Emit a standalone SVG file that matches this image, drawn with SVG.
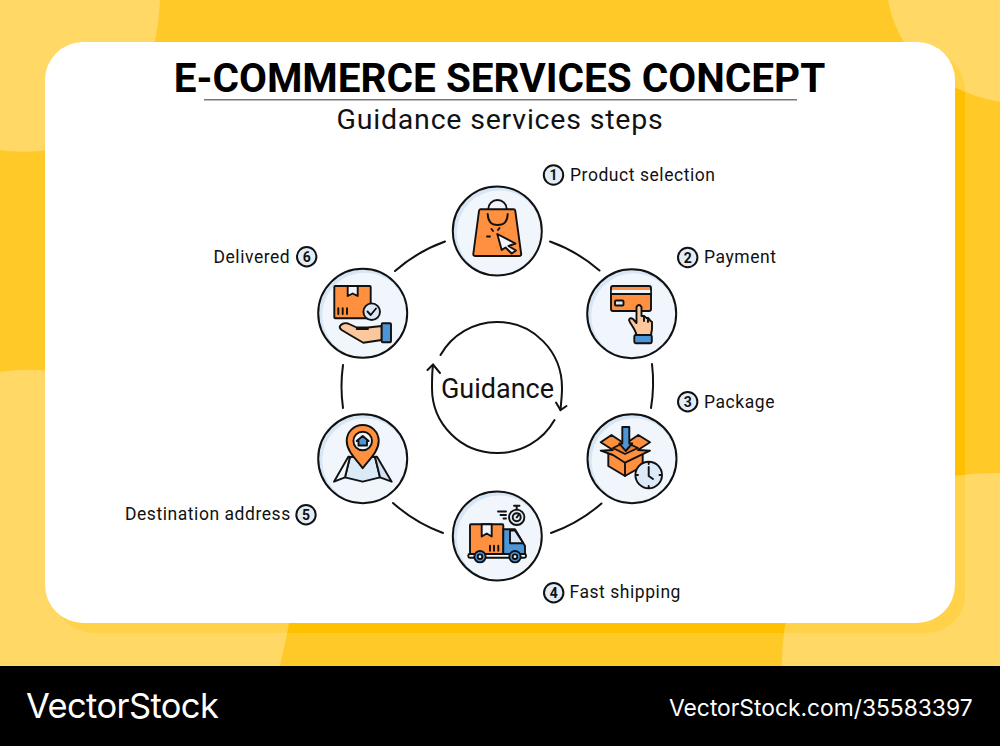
<svg xmlns="http://www.w3.org/2000/svg" width="1000" height="746" viewBox="0 0 1000 746">
<style>
.t{font-family:Roboto,"Liberation Sans",sans-serif;fill:#111}
.lab{font-size:17.5px;letter-spacing:.55px}
.num{font-size:14px;font-weight:700;text-anchor:middle}
.blob{fill:#fff;fill-opacity:.29}
.ring{fill:#D6E6F5}
.inner{fill:#F1F6FD}
.edge{fill:none;stroke:#111;stroke-width:2}
.conn{fill:none;stroke:#111;stroke-width:2;stroke-linecap:round}
.s{stroke:#111;stroke-width:1.9;stroke-linejoin:round;stroke-linecap:round}
.or{fill:#FF9040}
.bl{fill:#4C96D7}
.sk{fill:#FCC79C}
.wh{fill:#F1F6FD}
.lb{fill:#DCE9F6}
.n{fill:none}
.badge{fill:#E2EDF8;stroke:#111;stroke-width:2}
.wm{font-family:Inter,"Liberation Sans",sans-serif;fill:#fff}
</style>
<rect width="1000" height="746" fill="#FFC928"/>
<rect x="55" y="52" width="910" height="581" rx="38" fill="#FFC000"/>
<path class="blob" d="M0 0H160C158 40 148 90 110 125C85 146 40 156 0 150Z"/>
<path class="blob" d="M888 0C895 40 925 88 1000 102V0Z"/>
<path class="blob" d="M0 372C30 368 60 368 90 384C170 430 290 500 292 590C292 620 284 645 280 666H0Z"/>
<path class="blob" d="M782 666C782 640 785 610 800 570C830 510 900 473 1000 473V666Z"/>
<rect x="45" y="42" width="910" height="581" rx="38" fill="#fff"/>
<rect y="666" width="1000" height="80" fill="#000"/>
<g id="title">
<text class="t" x="499.500" y="92" font-size="40.500" font-weight="700" text-anchor="middle" style="fill:#000">E-COMMERCE SERVICES CONCEPT</text>
<rect x="204" y="99" width="593" height="1.500" fill="#777"/>
<text class="t" x="500" y="129" font-size="28.500" text-anchor="middle" letter-spacing=".8">Guidance services steps</text>
</g>
<g id="connectors">
<path class="conn" d="M550 241.500A155 155 0 0 1 599.500 270.500"/>
<path class="conn" d="M652 364A155 155 0 0 1 651 408"/>
<path class="conn" d="M601.500 503.500A155 155 0 0 1 551 533"/>
<path class="conn" d="M443 533A155 155 0 0 1 393 503"/>
<path class="conn" d="M343 408A155 155 0 0 1 343 365"/>
<path class="conn" d="M395 271A155 155 0 0 1 445 241.500"/>
<path class="conn" d="M440.500 355A65 65 0 0 1 497 322C533 322 562 351 562 388C562 396 561 403 560.500 410"/>
<path class="conn" d="M556 402.500L560.500 410L566.500 406"/>
<path class="conn" d="M554.500 420A65 65 0 0 1 497 453C461 453 432 424 432 388C432 380 432 372 433 365"/>
<path class="conn" d="M427.500 370L433 364.500L440 373"/>
</g>
<g id="center-label"><text class="t" x="497.500" y="398" font-size="27" text-anchor="middle">Guidance</text></g>
<g id="node-1">
<circle class="ring" cx="497.300" cy="231" r="44.500"/><circle class="inner" cx="499.300" cy="233" r="42.500"/><circle class="edge" cx="497.300" cy="231" r="44.500"/>
<path class="n s" d="M488.300 209A9.200 9 0 0 1 506.700 209"/>
<path class="or s" d="M480.500 209.300H513.500Q515 209.300 515.300 211L521.200 254Q521.300 256 519 256H475.500Q473.200 256 473.300 254L479 211Q479.200 209.300 480.500 209.300Z"/>
<path class="n s" d="M487.700 214Q488 225 497.700 225Q507.500 225 507.700 214"/>
<path class="wh s" d="M497.300 234L515.500 243.500L508.500 246L516 250.500L511.700 253.500L505.500 247.500L501.700 250Z"/>
<path class="n s" d="M493 231L491.500 229M498 230L499.500 228M490 236.500H487" stroke-width="1.300"/>
<text class="t lab" x="570" y="180.500">Product selection</text>
<circle class="badge" cx="553.500" cy="175" r="9.700"/><text class="t num" x="553.500" y="180">1</text>
</g>
<g id="node-2">
<circle class="ring" cx="631.700" cy="313.700" r="44.500"/><circle class="inner" cx="633.700" cy="315.700" r="42.500"/><circle class="edge" cx="631.700" cy="313.700" r="44.500"/>
<rect class="or s" x="611" y="286" width="40" height="25" rx="2"/>
<rect x="611.800" y="290" width="38.400" height="4" fill="#F1F6FD"/>
<path class="n s" d="M611 294H651"/>
<rect class="lb s" x="615" y="300.500" width="8.500" height="5" rx="1"/>
<path class="sk s" d="M636.500 335C635 328 630 324 629 320Q630 317 633 319L636.500 323V307Q639 303 641.500 307V316L644 316Q646 317 646.500 318L648 318Q650 319 650 320.500L652 322V329L651 335Z"/>
<path class="n s" d="M644 316V321M648 318V322" stroke-width="1.300"/>
<rect class="bl s" x="634.300" y="335" width="17.500" height="8.300" rx="1.500"/>
<text class="t lab" x="704" y="263">Payment</text>
<circle class="badge" cx="687.700" cy="257.500" r="9.700"/><text class="t num" x="687.700" y="262.500">2</text>
</g>
<g id="node-3">
<circle class="ring" cx="632" cy="458.700" r="44.500"/><circle class="inner" cx="634" cy="460.700" r="42.500"/><circle class="edge" cx="632" cy="458.700" r="44.500"/>
<path class="or s" d="M608.300 454V466L625 476L642.700 466V454Z"/>
<path class="n s" d="M625 462.700V476"/>
<path class="or s" d="M625 444L611.500 435L600.700 442.300L613 450L600.700 450.700L613 455L625 462.700L650 450.700L638 450L650 442.300L638.300 435Z"/>
<path class="s" d="M613 448L625 442L638 448L625 454Z" style="fill:#E97C2D"/>
<path class="bl s" d="M622.300 427H629.300V443.500H632.300L625.700 451L619.300 443.500H622.300Z"/>
<circle class="lb s" cx="648.700" cy="475" r="13.300"/>
<path class="n s" d="M648.700 467V476L653 479M648.700 462V464M648.700 486V488M636 475H638M659.500 475H661.500"/>
<text class="t lab" x="704" y="407.500">Package</text>
<circle class="badge" cx="687.700" cy="401.700" r="9.700"/><text class="t num" x="687.700" y="406.700">3</text>
</g>
<g id="node-4">
<circle class="ring" cx="497.300" cy="536" r="44.500"/><circle class="inner" cx="499.300" cy="538" r="42.500"/><circle class="edge" cx="497.300" cy="536" r="44.500"/>
<rect class="or s" x="470" y="524.300" width="33.300" height="30" rx="1"/>
<path class="wh s" d="M481.700 524.300H491.700V536.500L486.700 533.500L481.700 536.500Z"/>
<path class="n s" d="M490 545.700V550.700M494 545.700V550.700M498.300 545.700V550.700"/>
<path class="bl s" d="M503.300 529.300H515L525 546V554H503.300Z"/>
<path class="lb s" d="M510 530.500H515L523.300 543.300H510Z"/>
<rect class="wh s" x="468.300" y="554" width="57.700" height="3.700" rx="1.500"/>
<circle class="bl s" cx="480" cy="556.700" r="5.700"/><circle class="wh s" cx="480" cy="556.700" r="2.300"/>
<circle class="bl s" cx="515" cy="556.700" r="5.700"/><circle class="wh s" cx="515" cy="556.700" r="2.300"/>
<circle class="lb s" cx="516.700" cy="517.300" r="7.700"/>
<circle class="n s" cx="516.700" cy="517.300" r="4" stroke-width="1.200"/>
<path class="n s" d="M516.700 517.300L519.500 514M516.700 509.500V506M514 505.700H519.500M498 511.500H506M500.500 515H506M503.500 518.500H506" stroke-width="1.300"/>
<text class="t lab" x="569.500" y="598">Fast shipping</text>
<circle class="badge" cx="553.700" cy="592.700" r="9.700"/><text class="t num" x="553.700" y="597.700">4</text>
</g>
<g id="node-5">
<circle class="ring" cx="362.700" cy="458.700" r="44.500"/><circle class="inner" cx="364.700" cy="460.700" r="42.500"/><circle class="edge" cx="362.700" cy="458.700" r="44.500"/>
<path class="lb s" d="M350 457H375L380 477.300L362.700 481.700L345 477.300Z"/>
<path class="wh s" d="M334 481.700L348.300 456.700H350L345 477.300Z"/>
<path class="s" d="M391.700 481.700L377 456.700H375L380 477.300Z" style="fill:#CFE1F3"/>
<path class="or s" d="M362.700 468.300C358 461 346.700 452 346.700 441A16 16 0 0 1 378.700 441C378.700 452 367.500 461 362.700 468.300Z"/>
<circle class="wh s" cx="362.700" cy="441" r="9.300"/>
<path class="bl s" d="M356.700 441L362.700 436L368.700 441H367V445.500H358.500V441Z" stroke-width="1.200"/>
<text class="t lab" x="125" y="520">Destination address</text>
<circle class="badge" cx="306" cy="514.700" r="9.700"/><text class="t num" x="306" y="519.700">5</text>
</g>
<g id="node-6">
<circle class="ring" cx="362.700" cy="313.300" r="44.500"/><circle class="inner" cx="364.700" cy="315.300" r="42.500"/><circle class="edge" cx="362.700" cy="313.300" r="44.500"/>
<rect class="or s" x="334.300" y="286" width="36.400" height="32.300" rx="1"/>
<path class="wh s" d="M347.700 286H357.700V296L352.700 293.500L347.700 296Z"/>
<path class="n s" d="M338.300 308.300V314M342.700 308.300V314M347 308.300V314"/>
<circle class="lb s" cx="371.700" cy="311.700" r="8.300"/>
<path class="n s" d="M367.500 311.500L370.700 315L376 308.500"/>
<path class="sk s" d="M340 326Q343 322 348 323.500L356.700 327.500H368L381.700 326V340L363.300 342.700L350 335L341.700 330Q339 328 340 326Z"/>
<path class="n s" d="M356.700 329H368"/>
<rect class="bl s" x="381.700" y="323.300" width="9.300" height="19" rx="1"/>
<text class="t lab" x="213.500" y="262.500">Delivered</text>
<circle class="badge" cx="306.700" cy="256.700" r="9.700"/><text class="t num" x="306.700" y="261.700">6</text>
</g>
<g id="watermark">
<text class="wm" x="26" y="718" font-size="34.500" letter-spacing="-.6">VectorStock</text>
<text class="wm" x="669" y="716" font-size="22.800">VectorStock.com/35583397</text>
</g>
</svg>
